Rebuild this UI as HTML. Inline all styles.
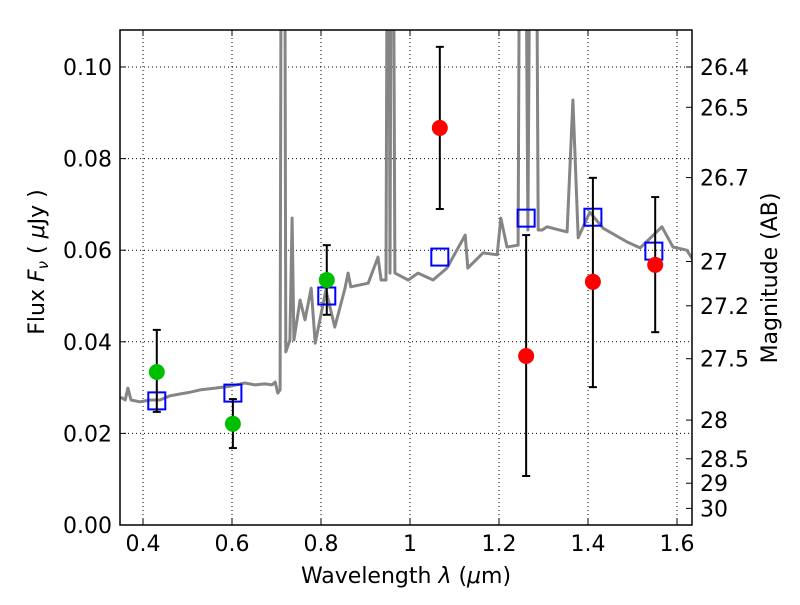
<!DOCTYPE html>
<html><head><meta charset="utf-8"><style>
body{margin:0;background:#fff}
svg text{font-family:"DejaVu Sans","Liberation Sans",sans-serif;fill:#000}
</style></head><body>
<svg id="chart" width="800" height="600" xmlns="http://www.w3.org/2000/svg"></svg>
<script>
const specWave=[0.35,0.360,0.366,0.373,0.393,0.416,0.438,0.461,0.483,0.506,0.528,0.562,0.596,0.629,0.652,0.674,0.690,0.697,0.703,0.708,0.712,0.717,0.721,0.730,0.735,0.739,0.753,0.764,0.778,0.787,0.811,0.831,0.854,0.861,0.867,0.906,0.928,0.935,0.946,0.951,0.955,0.960,0.966,0.996,1.018,1.052,1.083,1.124,1.130,1.164,1.196,1.204,1.218,1.243,1.249,1.256,1.265,1.274,1.281,1.288,1.297,1.308,1.353,1.366,1.378,1.404,1.434,1.488,1.517,1.566,1.591,1.622,1.636];
const specFlux=[0.0279,0.0273,0.0299,0.0273,0.0269,0.0273,0.0273,0.0282,0.0286,0.0290,0.0295,0.0299,0.0303,0.0310,0.0306,0.0308,0.0306,0.0312,0.0288,0.0295,0.2,0.2,0.0378,0.0404,0.067,0.0404,0.0491,0.0448,0.0517,0.0397,0.0513,0.0432,0.0517,0.055,0.052,0.0528,0.0585,0.0535,0.0535,0.2,0.055,0.2,0.055,0.0535,0.055,0.0535,0.0561,0.0633,0.0561,0.0594,0.059,0.067,0.0607,0.0611,0.2,0.2,0.0644,0.2,0.2,0.0644,0.0644,0.0651,0.064,0.0928,0.0627,0.0683,0.0648,0.0618,0.0605,0.0651,0.0607,0.06,0.0579];
const greenWave=[0.431,0.602,0.813];
const greenFlux=[0.0334,0.0221,0.0535];
const greenHi=[0.0426,0.0275,0.0611];
const greenLo=[0.0247,0.0168,0.0459];
const redWave=[1.067,1.261,1.411,1.551];
const redFlux=[0.0867,0.0369,0.0531,0.0568];
const redHi=[0.1044,0.0633,0.0758,0.0716];
const redLo=[0.069,0.0107,0.0301,0.0421];
const modelWave=[0.431,0.602,0.813,1.067,1.261,1.411,1.548];
const modelFlux=[0.0271,0.0288,0.0500,0.0585,0.0670,0.0672,0.0598];
const xTicks=[0.4,0.6,0.8,1.0,1.2,1.4,1.6];
const xTickLabels=["0.4","0.6","0.8","1","1.2","1.4","1.6"];
const yTicks=[0,0.02,0.04,0.06,0.08,0.10];
const yTickLabels=["0.00","0.02","0.04","0.06","0.08","0.10"];
const magTicks=[26.4,26.5,26.7,27,27.2,27.5,28,28.5,29,30];
const magLabels=["26.4","26.5","26.7","27","27.2","27.5","28","28.5","29","30"];

const L=120,R=692,T=30,B=525;
const X=v=>143+(v-0.4)*445;
const Y=v=>525-v*4580;
const NS="http://www.w3.org/2000/svg";
const svg=document.getElementById('chart');
function mk(tag,attrs,parent){const e=document.createElementNS(NS,tag);for(const k in attrs)e.setAttribute(k,attrs[k]);(parent||svg).appendChild(e);return e;}

const defs=mk('defs',{});
const cp=mk('clipPath',{id:'clip'},defs);
mk('rect',{x:L,y:T,width:R-L,height:B-T},cp);

const grid=mk('g',{});


xTicks.forEach(v=>mk('line',{x1:X(v),x2:X(v),y1:T,y2:B,stroke:'#000','stroke-width':1,'stroke-dasharray':'1,3'},grid));
yTicks.forEach(v=>mk('line',{x1:L,x2:R,y1:Y(v),y2:Y(v),stroke:'#000','stroke-width':1,'stroke-dasharray':'1,3'},grid));

const plot=mk('g',{'clip-path':'url(#clip)'});
let d='';specWave.forEach((w,i)=>{d+=(i?'L':'M')+X(w).toFixed(1)+','+Y(specFlux[i]).toFixed(1);});
const sp=mk('path',{d:d,fill:'none',stroke:'#858585','stroke-width':3,'stroke-linejoin':'round'},plot);



modelWave.forEach((w,i)=>{
 const r=mk('rect',{x:X(w)-8.5,y:Y(modelFlux[i])-8.5,width:17,height:17,fill:'none',stroke:'#0000ff','stroke-width':2},plot);
 
 
});
function pts(wave,flux,hi,lo,color,name){
 wave.forEach((w,i)=>{
  const g=mk('g',{},plot);
  
  
  const x=X(w);
  mk('line',{x1:x,x2:x,y1:Y(hi[i]),y2:Y(lo[i]),stroke:'#000','stroke-width':2},g);
  mk('line',{x1:x-4,x2:x+4,y1:Y(hi[i]),y2:Y(hi[i]),stroke:'#000','stroke-width':2},g);
  mk('line',{x1:x-4,x2:x+4,y1:Y(lo[i]),y2:Y(lo[i]),stroke:'#000','stroke-width':2},g);
  mk('circle',{cx:x,cy:Y(flux[i]),r:8,fill:color},g);
 });
}
pts(greenWave,greenFlux,greenHi,greenLo,'#00bf00','green-data-point');
pts(redWave,redFlux,redHi,redLo,'#ff0000','red-data-point');

const fr=mk('rect',{x:L,y:T,width:R-L,height:B-T,fill:'none',stroke:'#000','stroke-width':1.5});



xTicks.forEach((v,i)=>{
 mk('line',{x1:X(v),x2:X(v),y1:B,y2:B-6,stroke:'#000'});
 mk('line',{x1:X(v),x2:X(v),y1:T,y2:T+6,stroke:'#000'});
 const t=mk('text',{x:X(v),y:B+26,'text-anchor':'middle','font-size':22});
 t.textContent=xTickLabels[i];
 
 
});
yTicks.forEach((v,i)=>{
 mk('line',{x1:L,x2:L+6,y1:Y(v),y2:Y(v),stroke:'#000'});
 const t=mk('text',{x:L-8,y:Y(v)+8,'text-anchor':'end','font-size':22});
 t.textContent=yTickLabels[i];
 
 
});
magTicks.forEach((m,i)=>{
 const f=Math.pow(10,(23.9-m)/2.5);const y=Y(f);
 mk('line',{x1:R,x2:R-6,y1:y,y2:y,stroke:'#000'});
 const t=mk('text',{x:R+8,y:y+8,'font-size':22});
 t.textContent=magLabels[i];
 
 
});
</script>
<svg style="position:absolute;left:0;top:0" width="800" height="600" xmlns="http://www.w3.org/2000/svg">
<text x="406" y="583" text-anchor="middle" font-size="22" font-family="DejaVu Sans, Liberation Sans, sans-serif">Wavelength  <tspan font-style="italic">λ</tspan> (<tspan font-style="italic">μ</tspan>m)</text>
<text transform="translate(44,262) rotate(-90)" text-anchor="middle" font-size="22" font-family="DejaVu Sans, Liberation Sans, sans-serif">Flux  <tspan font-style="italic">F</tspan><tspan font-style="italic" font-size="15" dy="4">ν</tspan><tspan dy="-4">  (  </tspan><tspan font-style="italic">μ</tspan>Jy )</text>
<text transform="translate(777,278) rotate(-90)" text-anchor="middle" font-size="22" font-family="DejaVu Sans, Liberation Sans, sans-serif">Magnitude (AB)</text>
</svg>
</body></html>
